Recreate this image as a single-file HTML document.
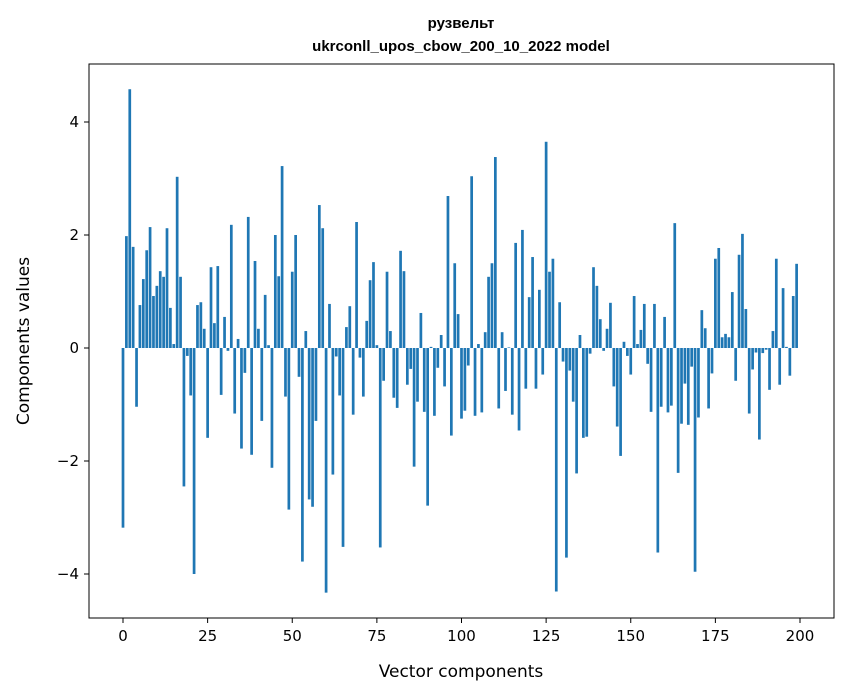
<!DOCTYPE html>
<html><head><meta charset="utf-8"><style>
body{margin:0;background:#fff}
svg{display:block;font-family:"DejaVu Sans","Liberation Sans",sans-serif}
</style></head><body>
<svg id="chart" width="847" height="696" viewBox="0 0 847 696">
<rect width="847" height="696" fill="#fff"/>
<text x="461" y="28" text-anchor="middle" font-size="15" font-weight="bold" font-family="Liberation Sans, sans-serif">рузвельт</text>
<text x="461" y="51" text-anchor="middle" font-size="15" font-weight="bold" font-family="Liberation Sans, sans-serif">ukrconll_upos_cbow_200_10_2022 model</text>
<g id="bars"></g>
<g id="axes"></g>
<rect x="89" y="64" width="745" height="554" fill="none" stroke="#000" stroke-width="1"/>
<text x="461" y="677" text-anchor="middle" font-size="17">Vector components</text>
<text transform="translate(29,341) rotate(-90)" text-anchor="middle" font-size="17">Components values</text>
</svg>
<script>
const values = [-3.18,1.98,4.58,1.79,-1.04,0.76,1.22,1.73,2.14,0.92,1.10,1.36,1.26,2.12,0.71,0.07,3.03,1.26,-2.45,-0.14,-0.84,-4.0,0.76,0.81,0.34,-1.59,1.43,0.44,1.45,-0.83,0.55,-0.05,2.18,
-1.16,0.16,-1.78,-0.44,2.32,-1.89,1.54,0.34,-1.29,0.94,0.05,-2.12,2.0,1.27,3.22,-0.86,-2.86,1.35,2.0,-0.51,-3.78,0.30,-2.68,-2.81,-1.29,2.53,2.12,-4.33,0.78,-2.24,-0.15,-0.84,-3.52,
0.37,0.74,-1.18,2.23,-0.17,-0.86,0.48,1.20,1.52,0.05,-3.53,-0.58,1.35,0.30,-0.88,-1.06,1.72,1.36,-0.65,-0.37,-2.10,-0.95,0.62,-1.13,-2.79,0.02,-1.20,-0.35,0.23,-0.68,2.69,-1.55,1.50,
0.60,-1.25,-1.11,-0.31,3.04,-1.20,0.07,-1.14,0.28,1.26,1.50,3.38,-1.07,0.28,-0.76,0.01,-1.18,1.86,-1.46,2.09,-0.72,0.90,1.61,-0.72,1.03,-0.47,3.65,1.35,1.58,-4.31,0.81,-0.24,-3.71,
-0.40,-0.95,-2.22,0.23,-1.59,-1.57,-0.10,1.43,1.10,0.51,-0.05,0.34,0.80,-0.68,-1.39,-1.91,0.11,-0.14,-0.47,0.92,0.07,0.32,0.78,-0.28,-1.13,0.78,-3.62,-1.04,0.55,-1.14,-1.02,2.21,-2.21,
-1.34,-0.63,-1.36,-0.33,-3.96,-1.23,0.67,0.35,-1.07,-0.45,1.58,1.77,0.19,0.25,0.19,0.99,-0.58,1.65,2.02,0.69,-1.16,-0.38,-0.08,-1.62,-0.09,-0.03,-0.74,0.30,1.58,-0.65,1.06,0.02,-0.49,0.92,1.49];
const xTicks = [0,25,50,75,100,125,150,175,200];
const yTicks = [-4,-2,0,2,4];
const NS = "http://www.w3.org/2000/svg";
function xs(i){return 123 + i*(677/200);}
function ys(v){return 348 - v*56.5;}
const bw = 0.8*677/200;
const bars = document.getElementById('bars');
values.forEach((v,i)=>{
  const r = document.createElementNS(NS,'rect');
  r.setAttribute('x', xs(i)-bw/2);
  r.setAttribute('y', Math.min(ys(v), ys(0)));
  r.setAttribute('width', bw);
  r.setAttribute('height', Math.abs(ys(v)-ys(0)));
  r.setAttribute('fill', '#1f77b4');
  
  
  bars.appendChild(r);
});
const axes = document.getElementById('axes');
xTicks.forEach(t=>{
  const l = document.createElementNS(NS,'line');
  l.setAttribute('x1', xs(t)); l.setAttribute('x2', xs(t));
  l.setAttribute('y1', 618); l.setAttribute('y2', 623);
  l.setAttribute('stroke', '#000');
  
  
  axes.appendChild(l);
  const tx = document.createElementNS(NS,'text');
  tx.setAttribute('x', xs(t)); tx.setAttribute('y', 641);
  tx.setAttribute('text-anchor', 'middle'); tx.setAttribute('font-size', '15');
  tx.textContent = t;
  
  
  axes.appendChild(tx);
});
yTicks.forEach(t=>{
  const l = document.createElementNS(NS,'line');
  l.setAttribute('x1', 84); l.setAttribute('x2', 89);
  l.setAttribute('y1', ys(t)); l.setAttribute('y2', ys(t));
  l.setAttribute('stroke', '#000');
  
  
  axes.appendChild(l);
  const tx = document.createElementNS(NS,'text');
  tx.setAttribute('x', 79); tx.setAttribute('y', ys(t)+5);
  tx.setAttribute('text-anchor', 'end'); tx.setAttribute('font-size', '15');
  tx.textContent = t < 0 ? '\u2212' + Math.abs(t) : String(t);
  
  
  axes.appendChild(tx);
});
</script>
</body></html>
